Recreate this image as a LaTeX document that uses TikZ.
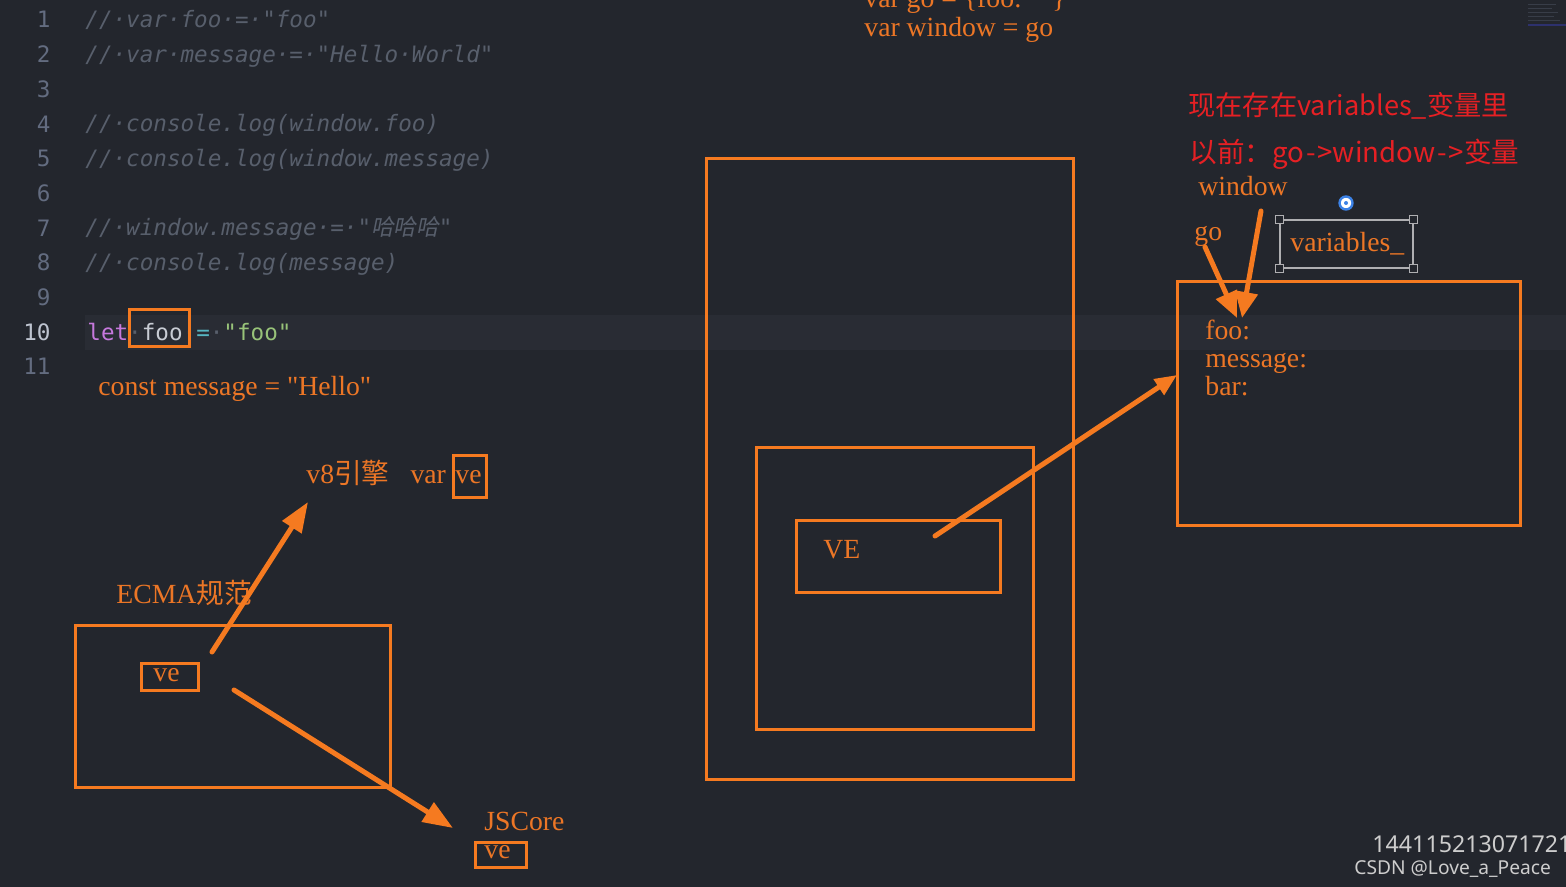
\documentclass[tikz,border=0pt]{standalone}
\usepackage{fontspec}
\setmainfont{Liberation Serif}[Ligatures=TeXOff]
\newfontfamily\cjk{Noto Sans CJK SC}
\newfontfamily\cjkit[FakeSlant=0.2]{Noto Sans CJK SC}
\newfontfamily\codefont{DejaVu Sans Mono}
\newfontfamily\wmfont{Noto Sans}
\usetikzlibrary{arrows.meta}
\definecolor{bg}{RGB}{35,38,45}
\definecolor{band}{RGB}{41,44,52}
\definecolor{org}{RGB}{245,122,32}
\definecolor{orgtxt}{RGB}{236,118,38}
\definecolor{redtxt}{RGB}{230,32,36}
\definecolor{cmt}{RGB}{88,95,108}
\definecolor{lnum}{RGB}{99,108,128}
\definecolor{lnumact}{RGB}{190,196,208}
\definecolor{kw}{RGB}{198,120,221}
\definecolor{idc}{RGB}{200,204,212}
\definecolor{opc}{RGB}{86,182,194}
\definecolor{strc}{RGB}{152,195,121}
\definecolor{selc}{RGB}{175,175,178}
\definecolor{wm}{RGB}{205,205,205}
\definecolor{mini}{RGB}{56,61,72}
\definecolor{rotblue}{RGB}{60,130,230}
\tikzset{
  codetxt/.style={anchor=base west, inner sep=0pt, font=\codefont\fontsize{11.3}{13}\selectfont},
  lnumtxt/.style={anchor=base east, inner sep=0pt, font=\codefont\fontsize{11.3}{13}\selectfont, text=lnum},
  otxt/.style={anchor=base west, inner sep=0pt, text=orgtxt, font=\fontsize{13.85}{16}\selectfont},
  rtxt/.style={anchor=base west, inner sep=0pt, text=redtxt, font=\cjk\fontsize{13.8}{16}\selectfont},
  obox/.style={draw=org, line width=1.5pt, inner sep=0pt, fill=none},
  arr/.style={draw=org, line width=2.5pt, line cap=round, -{Triangle[length=13pt,width=11pt]}},
  handle/.style={draw=selc, fill=bg, line width=0.6pt, minimum size=4pt, inner sep=0pt},
}
\begin{document}
\begin{tikzpicture}[x=0.5pt,y=-0.5pt]
\useasboundingbox[fill=bg] (0,0) rectangle (1566,887);
% current line highlight
\fill[band] (85,315) rectangle (1566,350);
% minimap
\foreach \yy/\ww in {5/28,9/24,13/30,17/26,21/32}{
  \draw[mini, line width=0.5pt] (1528,\yy) -- ++(\ww,0);
}
\draw[mini!80!blue, line width=0.6pt] (1528,25) -- (1566,25);

% line numbers
\foreach \n in {1,...,9,11}{
  \node[lnumtxt] (ln\n) at (51,{28+(\n-1)*34.67}) {\n};
}
\node[lnumtxt, text=lnumact] (ln10) at (51,340) {10};

% code lines
\node[codetxt, text=cmt] (c1) at (85,28) {\itshape //·var·foo·=·"foo"};
\node[codetxt, text=cmt] (c2) at (85,62.7) {\itshape //·var·message·=·"Hello·World"};
\node[codetxt, text=cmt] (c4) at (85,132) {\itshape //·console.log(window.foo)};
\node[codetxt, text=cmt] (c5) at (85,166.7) {\itshape //·console.log(window.message)};
\node[codetxt, text=cmt] (c7) at (85,236) {\itshape //·window.message·=·"{\cjkit 哈哈哈}"};
\node[codetxt, text=cmt] (c8) at (85,270.7) {\itshape //·console.log(message)};
\node[codetxt] (c10) at (87,340) {{\color{kw}let}{\color{cmt}·}{\color{idc}foo}{\color{cmt}·}{\color{opc}=}{\color{cmt}·}{\color{strc}"foo"}};
\node[obox, minimum width=30pt, minimum height=18pt] (foobox) at (159,328) {};

% orange annotations
\node[otxt] (constmsg) at (98,395) {const message = "Hello"};
\node[otxt] (vargo) at (864,8) {var go = \{foo:};
\node[otxt] (vargoclose) at (1052,8) {\}};
\node[otxt] (varwin) at (864,37) {var window = go};

% middle boxes
\node[obox, minimum width=183.5pt, minimum height=310pt] (big) at (889.5,469) {};
\node[obox, minimum width=138.5pt, minimum height=141pt] (inner) at (894.5,588) {};
\node[obox, minimum width=102pt, minimum height=36pt] (vebox) at (898,556) {};
\node[otxt] (vetxt) at (823,558) {VE};

% right box
\node[obox, minimum width=171.5pt, minimum height=121.5pt] (rbox) at (1348.5,403.5) {};
\node[otxt] (foo) at (1205,339) {foo:};
\node[otxt] (msg) at (1205,367) {message:};
\node[otxt] (bar) at (1205,395) {bar:};
\node[otxt] (win) at (1198,196) {window};
\node[otxt] (go) at (1194,241) {go};

% selected text box
\node[draw=selc, line width=0.75pt, minimum width=66.5pt, minimum height=24pt, inner sep=0pt] (sel) at (1346.5,244) {};
\node[otxt] (vars) at (1290,252) {variables\_};
\node[handle] (h1) at (sel.north west) {};
\node[handle] (h2) at (sel.north east) {};
\node[handle] (h3) at (sel.south west) {};
\node[handle] (h4) at (sel.south east) {};
\node[circle, fill=white, draw=rotblue, inner sep=0pt, minimum size=6.5pt, line width=1.2pt] (rot) at (1346,203) {};
\node[circle, fill=rotblue, inner sep=0pt, minimum size=2pt] (rotc) at (1346,203) {};

% red notes
\node[rtxt, font=\cjk\fontsize{13.6}{16}\selectfont] (note1) at (1188,116) {现在存在variables\_变量里};
\node[rtxt] (note2) at (1189,163) {以前：go\hspace{1pt}-\hspace{1pt}>window\hspace{1pt}-\hspace{1pt}>变量};

% arrows on the right
\coordinate (veS) at (935,536);
\coordinate (rIn) at (1177,375);
\draw[arr, -{Triangle[length=11pt,width=9pt]}] (veS) -- (rIn);
\coordinate (goS) at (1205,247);
\coordinate (goT) at (1237,318);
\draw[arr] (goS) -- (goT);
\coordinate (winS) at (1261,211);
\coordinate (winT) at (1242,318);
\draw[arr] (winS) -- (winT);

% bottom left
\node[otxt] (v8) at (306,483) {v8{\cjk 引擎}\hspace{10.5pt}var};
\node[otxt] (ve2t) at (455,483) {ve};
\node[obox, minimum width=16.5pt, minimum height=21pt] (ve2) at (469.5,476) {};
\node[otxt] (ecmat) at (116,603) {ECMA{\cjk 规范}};
\node[obox, minimum width=157.5pt, minimum height=81pt] (ecma) at (232.5,706) {};
\node[obox, minimum width=28.5pt, minimum height=13.5pt] (ve1) at (169.5,676.5) {};
\node[otxt] (ve1t) at (153,681) {ve};
\node[otxt] (jsc) at (484,830) {JSCore};
\node[obox, minimum width=25.5pt, minimum height=12.5pt] (ve3) at (500.5,854.5) {};
\node[otxt] (ve3t) at (484,858) {ve};

\coordinate (upS) at (212,652);
\coordinate (upT) at (308,502);
\draw[arr, -{Triangle[length=15pt,width=11pt]}] (upS) -- (upT);
\coordinate (dnS) at (234,690);
\coordinate (dnT) at (453,828);
\draw[arr, -{Triangle[length=15pt,width=11pt]}] (dnS) -- (dnT);

% watermark
\node[anchor=base west, inner sep=0pt, text=wm, font=\wmfont\fontsize{11.6}{13}\selectfont] (wm1) at (1372,852) {144115213071721};
\node[anchor=base west, inner sep=0pt, text=wm, font=\wmfont\fontsize{9.6}{12}\selectfont] (wm2) at (1354,874) {CSDN @Love\_a\_Peace};
\end{tikzpicture}
\end{document}
